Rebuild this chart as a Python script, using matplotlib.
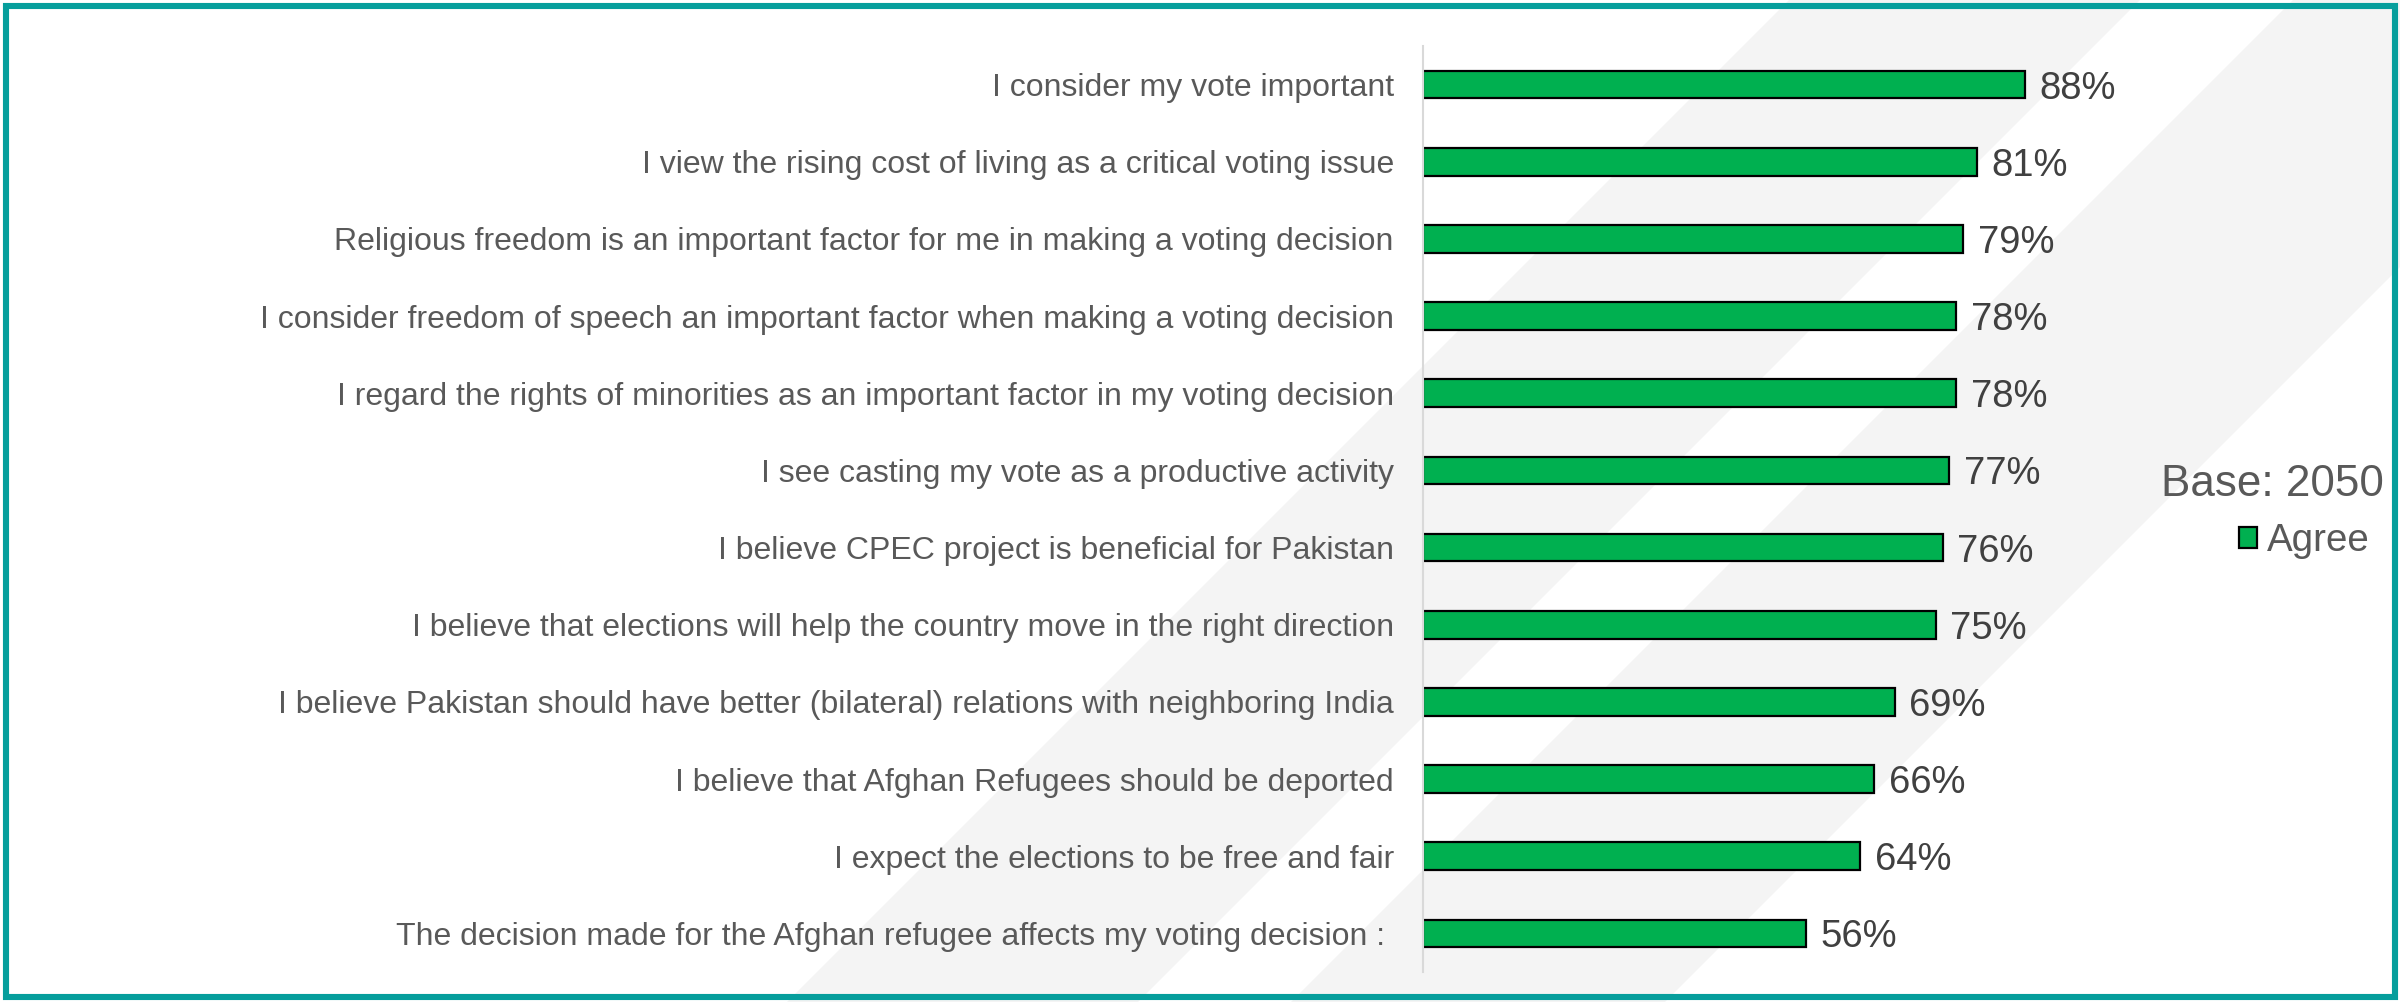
# imports
import matplotlib
matplotlib.use("Agg")
import matplotlib.pyplot as plt
from matplotlib.patches import Polygon, Rectangle

# donnees
statements = [
    "I consider my vote important",
    "I view the rising cost of living as a critical voting issue",
    "Religious freedom is an important factor for me in making a voting decision",
    "I consider freedom of speech an important factor when making a voting decision",
    "I regard the rights of minorities as an important factor in my voting decision",
    "I see casting my vote as a productive activity",
    "I believe CPEC project is beneficial for Pakistan",
    "I believe that elections will help the country move in the right direction",
    "I believe Pakistan should have better (bilateral) relations with neighboring India",
    "I believe that Afghan Refugees should be deported",
    "I expect the elections to be free and fair",
    "The decision made for the Afghan refugee affects my voting decision : ",
]
agree = [88, 81, 79, 78, 78, 77, 76, 75, 69, 66, 64, 56]
series_name = "Agree"
base_text = "Base: 2050"

plt.rcParams['font.family'] = ['Liberation Sans', 'DejaVu Sans']

W, H = 2400, 1002
fig = plt.figure(figsize=(W / 100, H / 100), dpi=100)

# fond: bandes diagonales grises
bg = fig.add_axes([0, 0, 1, 1], zorder=0)
bg.set_xlim(0, W)
bg.set_ylim(H, 0)
bg.axis('off')
for x0, x1 in [(1789, 2140), (2293, 2667)]:
    bg.add_patch(Polygon([(x0, 0), (x1, 0), (x1 - H, H), (x0 - H, H)],
                         closed=True, facecolor='#F4F4F4', edgecolor='none'))
# cadre turquoise
bg.add_patch(Rectangle((5.5, 5.5), W - 11, H - 11, fill=False,
                       edgecolor='#069E9C', linewidth=4.4))

# graphique
ax = fig.add_axes([1423 / W, 1 - 972 / H, 957 / W, 926 / H], zorder=1)
ax.patch.set_alpha(0)
y = list(range(len(statements)))
bars = ax.barh(y, agree, height=0.36, color='#00B050', edgecolor='black',
               linewidth=1.6, label=series_name)
ax.set_ylim(len(statements) - 0.5, -0.5)
ax.set_xlim(0, 140)
ax.set_yticks(y)
ax.set_yticklabels(statements, fontsize=23, color='#595959')
ax.tick_params(axis='y', length=0, pad=21)
ax.set_xticks([])
for s in ['top', 'right', 'bottom']:
    ax.spines[s].set_visible(False)
ax.spines['left'].set_color('#D9D9D9')
ax.spines['left'].set_linewidth(1.5)

lbls = ax.bar_label(bars, labels=[f"{v}%" for v in agree], padding=10.5,
                    fontsize=27.5, color='#404040')
for t in lbls:
    t.set_va('center_baseline')

# legende
fig.text(2384 / W, 1 - 485 / H, base_text, ha='right', va='center',
         fontsize=31.7, color='#595959')
leg = ax.legend(loc='center right', bbox_to_anchor=(2370 / W, 1 - 541 / H),
                bbox_transform=fig.transFigure, frameon=False,
                fontsize=27.7, handlelength=0.47, handleheight=0.47,
                handletextpad=0.26, borderpad=0, borderaxespad=0)
for t in leg.get_texts():
    t.set_color('#595959')

fig.savefig('out.png', dpi=100)
